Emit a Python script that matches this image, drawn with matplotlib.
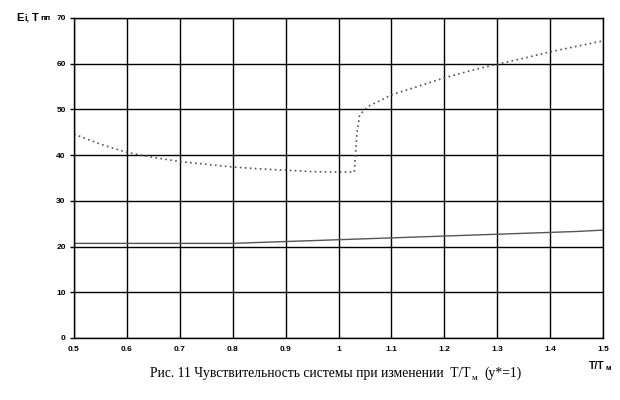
import matplotlib
matplotlib.use("Agg")
import matplotlib.pyplot as plt

# T/Tm values and curves
t_ratio = [0.5, 0.55, 0.6, 0.65, 0.7, 0.75, 0.8, 0.85, 0.9, 0.95, 1.0, 1.03,
           1.032, 1.035, 1.04, 1.055, 1.08, 1.1, 1.13, 1.2, 1.25, 1.3, 1.35, 1.4, 1.45, 1.5]
t_pp = [44.6, 42.4, 40.6, 39.5, 38.6, 38.0, 37.4, 37.0, 36.7, 36.4, 36.3, 36.3,
        40.0, 45.0, 48.8, 50.6, 52.0, 53.2, 54.3, 56.9, 58.5, 59.9, 61.2, 62.6, 63.8, 65.0]

t_solid = [0.5, 0.6, 0.7, 0.8, 0.85, 0.9, 0.95, 1.0, 1.05, 1.1, 1.15, 1.2, 1.25, 1.3, 1.35, 1.4, 1.45, 1.5]
e_i = [20.7, 20.7, 20.7, 20.7, 20.9, 21.1, 21.3, 21.5, 21.7, 21.9, 22.1, 22.3, 22.5, 22.7, 22.9, 23.1, 23.3, 23.6]

x_ticks = [0.5, 0.6, 0.7, 0.8, 0.9, 1.0, 1.1, 1.2, 1.3, 1.4, 1.5]
x_tick_labels = ["0.5", "0.6", "0.7", "0.8", "0.9", "1", "1.1", "1.2", "1.3", "1.4", "1.5"]
y_ticks = [0, 10, 20, 30, 40, 50, 60, 70]

sans = ["Liberation Sans Narrow", "Liberation Sans", "DejaVu Sans"]
serif = ["Liberation Serif", "DejaVu Serif"]

fig = plt.figure(figsize=(6.2, 4.0), dpi=100)
ax = fig.add_axes([74 / 620, 62 / 400, 529 / 620, 320 / 400])

ax.plot(t_solid, e_i, color="#555555", lw=1.0)
ax.plot(t_ratio, t_pp, color="#555555", lw=1.2, ls=(0, (1.0, 2.0)))

ax.set_xlim(0.5, 1.5)
ax.set_ylim(0, 70)
ax.set_xticks(x_ticks)
ax.set_xticklabels(x_tick_labels)
ax.set_yticks(y_ticks)
ax.grid(True, color="black", lw=1.0)
for s in ax.spines.values():
    s.set_linewidth(1.0)
ax.tick_params(axis="x", length=0, pad=6)
ax.tick_params(axis="y", length=3, width=1.0, direction="out", pad=3)
for lab in ax.get_xticklabels() + ax.get_yticklabels():
    lab.set_family(sans)
    lab.set_fontweight("bold")
    lab.set_fontsize(6)

# y label: E i, T пп
yl = 1 - 18 / 400
fig.text(16 / 620, yl, "E", family=sans, weight="bold", fontsize=8, ha="left", va="center")
fig.text(24 / 620, yl, "i,", family=sans, weight="bold", fontsize=6.5, ha="left", va="center")
fig.text(32 / 620, yl, "T", family=sans, weight="bold", fontsize=8, ha="left", va="center")
fig.text(40 / 620, 1 - 19 / 400, "пп", family=sans, weight="bold", fontsize=6, ha="left", va="center")

# x label: T/T м
fig.text(589 / 620, 1 - 366 / 400, "T/T", family=sans, weight="bold", fontsize=7.5, ha="left", va="center")
fig.text(606 / 620, 1 - 368 / 400, "м", family=sans, weight="bold", fontsize=5.5, ha="left", va="center")

# caption
cap = fig.text(150 / 620, 1 - 373 / 400, "Рис. 11 Чувствительность системы при изменении  T/T",
               family=serif, fontsize=9.8, ha="left", va="center")
sub = ax.annotate("м", xy=(1, 0.15), xycoords=cap, xytext=(1, 0), textcoords="offset points",
                  family=serif, fontsize=6.5, ha="left", va="center", annotation_clip=False)
ax.annotate("(y*=1)", xy=(1, 0.5), xycoords=cap, xytext=(10, 0), textcoords="offset points",
            family=serif, fontsize=9.8, ha="left", va="center", annotation_clip=False)

fig.savefig("out.png", dpi=100)
